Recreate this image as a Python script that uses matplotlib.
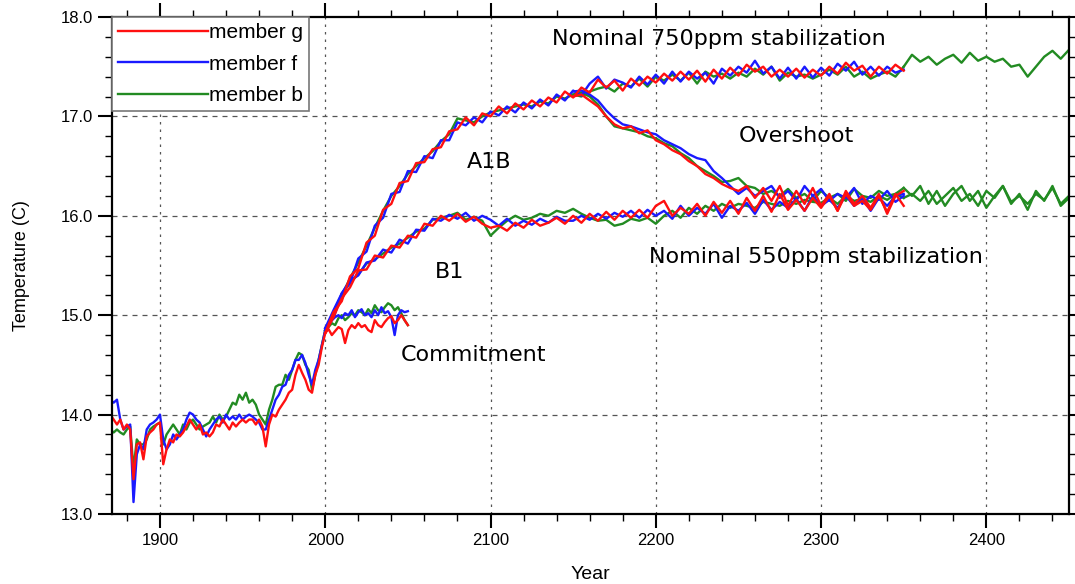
import numpy as np
import matplotlib
matplotlib.use("Agg")
import matplotlib.pyplot as plt

# ---------------- data ----------------
hist_years = np.arange(1870, 2001, 2)
hist_g = [14.00, 13.95, 13.90, 13.95, 13.85, 13.90, 13.85, 13.35, 13.70, 13.72,
          13.55, 13.78, 13.82, 13.85, 13.90, 13.92, 13.50, 13.65, 13.75, 13.72,
          13.80, 13.78, 13.82, 13.88, 13.95, 13.90, 13.85, 13.90, 13.80, 13.82,
          13.78, 13.82, 13.90, 13.88, 13.95, 13.90, 13.85, 13.92, 13.88, 13.92,
          13.95, 13.92, 13.95, 13.95, 13.90, 13.95, 13.88, 13.68, 13.90, 14.00,
          13.98, 14.05, 14.10, 14.15, 14.22, 14.25, 14.40, 14.50, 14.42, 14.35,
          14.25, 14.22, 14.40, 14.50, 14.68, 14.82]
hist_f = [14.15, 14.12, 14.15, 13.95, 13.85, 13.88, 13.90, 13.12, 13.60, 13.70,
          13.65, 13.85, 13.90, 13.92, 13.95, 14.00, 13.75, 13.65, 13.70, 13.80,
          13.75, 13.80, 13.85, 13.95, 14.02, 14.00, 13.95, 13.92, 13.85, 13.78,
          13.85, 13.90, 13.95, 13.98, 13.92, 14.00, 13.95, 13.98, 13.95, 14.00,
          13.95, 13.98, 14.00, 13.98, 13.95, 13.92, 13.85, 13.85, 13.95, 14.05,
          14.15, 14.20, 14.28, 14.30, 14.40, 14.45, 14.55, 14.55, 14.60, 14.52,
          14.40, 14.30, 14.45, 14.55, 14.70, 14.85]
hist_b = [13.85, 13.82, 13.85, 13.82, 13.80, 13.85, 13.88, 13.45, 13.75, 13.70,
          13.70, 13.75, 13.85, 13.88, 13.90, 13.92, 13.70, 13.80, 13.85, 13.90,
          13.85, 13.80, 13.90, 13.85, 13.92, 13.95, 13.90, 13.85, 13.88, 13.90,
          13.92, 13.98, 13.92, 14.00, 13.95, 13.98, 14.05, 14.12, 14.10, 14.20,
          14.15, 14.22, 14.12, 14.15, 14.10, 14.00, 13.95, 13.90, 14.05, 14.15,
          14.28, 14.30, 14.30, 14.40, 14.35, 14.45, 14.55, 14.62, 14.60, 14.50,
          14.45, 14.25, 14.40, 14.55, 14.70, 14.85]

commit_years = np.arange(2000, 2051, 2)
commit_g = [14.82, 14.86, 14.80, 14.84, 14.88, 14.86, 14.72, 14.85, 14.90, 14.87,
            14.92, 14.88, 14.90, 14.85, 14.83, 14.95, 14.90, 14.88, 14.93, 14.97,
            14.99, 14.92, 14.95, 15.00, 14.95, 14.90]
commit_f = [14.85, 14.90, 14.95, 14.98, 15.00, 14.97, 15.02, 15.00, 15.05, 14.98,
            15.03, 15.06, 15.00, 15.02, 14.98, 15.05, 15.00, 15.08, 15.02, 15.04,
            14.98, 14.80, 15.00, 15.05, 15.03, 15.04]
commit_b = [14.85, 14.88, 14.92, 14.90, 14.97, 15.00, 14.95, 14.98, 15.02, 15.00,
            15.05, 15.03, 15.00, 15.06, 15.02, 15.10, 15.05, 15.03, 15.08, 15.12,
            15.10, 15.05, 15.08, 15.02, 14.95, 14.90]

# A1B -> nominal 750 ppm stabilization (2000-2350, every 5 years)
a1b_g = [14.82, 15.03, 15.14, 15.39, 15.47, 15.73, 15.80, 16.06, 16.12, 16.33,
         16.35, 16.53, 16.54, 16.67, 16.69, 16.85, 16.87, 16.99, 16.91, 17.03,
         17.00, 17.10, 17.03, 17.13, 17.07, 17.16, 17.10, 17.19, 17.14, 17.25,
         17.19, 17.29, 17.24, 17.37, 17.29, 17.36, 17.26, 17.38, 17.31, 17.40,
         17.34, 17.43, 17.36, 17.45, 17.37, 17.46, 17.35, 17.47, 17.38, 17.49,
         17.41, 17.52, 17.45, 17.50, 17.40, 17.47, 17.40, 17.48, 17.39, 17.47,
         17.41, 17.50, 17.43, 17.54, 17.46, 17.51, 17.40, 17.50, 17.43, 17.52,
         17.46]
a1b_f = [14.87, 14.97, 15.22, 15.32, 15.57, 15.64, 15.90, 15.98, 16.22, 16.24,
         16.45, 16.44, 16.60, 16.58, 16.76, 16.76, 16.94, 16.91, 16.99, 16.94,
         17.05, 17.01, 17.10, 17.04, 17.14, 17.08, 17.17, 17.11, 17.22, 17.16,
         17.26, 17.21, 17.33, 17.40, 17.28, 17.37, 17.34, 17.29, 17.40, 17.32,
         17.42, 17.33, 17.45, 17.35, 17.45, 17.38, 17.44, 17.33, 17.48, 17.41,
         17.50, 17.44, 17.56, 17.43, 17.50, 17.38, 17.49, 17.38, 17.50, 17.39,
         17.49, 17.41, 17.53, 17.46, 17.55, 17.42, 17.50, 17.41, 17.50, 17.44,
         17.47]
a1b_b = [14.85, 15.01, 15.20, 15.37, 15.53, 15.70, 15.88, 16.05, 16.20, 16.30,
         16.42, 16.50, 16.58, 16.65, 16.75, 16.82, 16.98, 16.96, 16.94, 17.00,
         17.04, 17.06, 17.08, 17.10, 17.12, 17.10, 17.15, 17.13, 17.20, 17.18,
         17.22, 17.20, 17.25, 17.28, 17.30, 17.25, 17.33, 17.30, 17.38, 17.30,
         17.40, 17.36, 17.42, 17.36, 17.44, 17.33, 17.45, 17.40, 17.43, 17.38,
         17.44, 17.40, 17.48, 17.42, 17.50, 17.36, 17.44, 17.40, 17.42, 17.38,
         17.42, 17.47, 17.42, 17.50, 17.40, 17.45, 17.38, 17.42, 17.45, 17.40,
         17.50]
# member b continues 2355-2450
a1b_b_ext = [17.62, 17.55, 17.60, 17.52, 17.58, 17.62, 17.54, 17.64, 17.56, 17.60,
             17.55, 17.58, 17.50, 17.52, 17.40, 17.50, 17.60, 17.66, 17.58, 17.67]

# B1 -> nominal 550 ppm stabilization (2000-2350, every 5 years)
b1_g = [14.82, 14.98, 15.17, 15.28, 15.45, 15.46, 15.60, 15.58, 15.70, 15.68,
        15.80, 15.78, 15.92, 15.90, 16.00, 15.95, 16.02, 15.94, 15.99, 15.92,
        15.88, 15.90, 15.85, 15.93, 15.88, 15.96, 15.90, 15.93, 15.98, 15.92,
        16.00, 15.93, 16.02, 15.95, 16.04, 15.96, 16.05, 15.98, 16.06, 15.98,
        16.10, 16.15, 16.00, 16.08, 16.02, 16.12, 16.00, 16.14, 16.03, 16.15,
        16.02, 16.18, 16.05, 16.20, 16.04, 16.22, 16.06, 16.16, 16.05, 16.18,
        16.08, 16.20, 16.05, 16.22, 16.10, 16.15, 16.06, 16.20, 16.04, 16.22,
        16.10]
b1_f = [14.87, 15.05, 15.22, 15.35, 15.40, 15.53, 15.55, 15.66, 15.63, 15.76,
        15.72, 15.86, 15.85, 15.97, 15.95, 16.01, 15.97, 16.03, 15.95, 16.00,
        15.96, 15.90, 15.97, 15.90, 15.95, 15.91, 15.97, 15.93, 15.99, 15.95,
        15.95, 16.00, 15.96, 16.02, 15.97, 16.03, 15.99, 16.05, 15.98, 16.06,
        16.00, 16.05, 15.97, 16.10, 16.00, 16.08, 16.02, 16.12, 15.98, 16.10,
        16.05, 16.13, 16.02, 16.16, 16.06, 16.14, 16.08, 16.17, 16.05, 16.20,
        16.10, 16.16, 16.08, 16.20, 16.10, 16.18, 16.05, 16.18, 16.10, 16.20,
        16.22]
b1_b = [14.85, 15.03, 15.21, 15.33, 15.41, 15.52, 15.56, 15.62, 15.68, 15.72,
        15.78, 15.84, 15.87, 15.96, 15.98, 16.00, 16.03, 15.96, 15.99, 15.95,
        15.80, 15.88, 15.95, 16.00, 15.96, 15.98, 16.02, 16.00, 16.05, 16.03,
        16.07, 16.02, 15.98, 15.95, 15.96, 15.90, 15.92, 15.97, 15.95, 15.98,
        15.92, 16.00, 16.05, 15.98, 16.08, 16.02, 16.10, 16.05, 16.12, 16.08,
        16.12, 16.10, 16.08, 16.14, 16.12, 16.10, 16.15, 16.12, 16.16, 16.14,
        16.13, 16.18, 16.12, 16.20, 16.15, 16.17, 16.14, 16.20, 16.16, 16.22,
        16.18]
b1_b_ext = [16.22, 16.15, 16.25, 16.12, 16.20, 16.28, 16.15, 16.22, 16.10, 16.25,
            16.18, 16.30, 16.14, 16.20, 16.12, 16.22, 16.16, 16.28, 16.12, 16.20]

# Overshoot (2150-2350, every 5 years)
over_g = [17.20, 17.22, 17.16, 17.10, 17.00, 16.92, 16.88, 16.90, 16.83, 16.86,
          16.76, 16.72, 16.66, 16.62, 16.55, 16.50, 16.42, 16.38, 16.32, 16.28,
          16.25, 16.30, 16.18, 16.28, 16.15, 16.30, 16.10, 16.25, 16.12, 16.28,
          16.10, 16.22, 16.05, 16.25, 16.12, 16.20, 16.08, 16.22, 16.02, 16.20,
          16.25]
over_f = [17.25, 17.26, 17.22, 17.16, 17.06, 16.98, 16.92, 16.90, 16.87, 16.84,
          16.82, 16.76, 16.72, 16.68, 16.62, 16.58, 16.56, 16.45, 16.38, 16.30,
          16.22, 16.28, 16.20, 16.25, 16.30, 16.18, 16.25, 16.15, 16.30, 16.20,
          16.27, 16.15, 16.22, 16.18, 16.28, 16.12, 16.20, 16.16, 16.25, 16.14,
          16.20]
over_b = [17.22, 17.24, 17.20, 17.12, 17.00, 16.90, 16.88, 16.86, 16.84, 16.80,
          16.78, 16.73, 16.70, 16.63, 16.58, 16.50, 16.45, 16.40, 16.34, 16.35,
          16.38, 16.30, 16.28, 16.22, 16.25, 16.20, 16.27, 16.18, 16.22, 16.15,
          16.25, 16.18, 16.22, 16.15, 16.27, 16.20, 16.18, 16.25, 16.20, 16.22,
          16.28]
over_b_ext = [16.20, 16.30, 16.12, 16.25, 16.10, 16.22, 16.30, 16.15, 16.25, 16.08,
              16.20, 16.30, 16.12, 16.22, 16.06, 16.25, 16.15, 16.30, 16.10, 16.18]

members = ["member g", "member f", "member b"]
colors = ["#ff1010", "#1a1aff", "#228b22"]

# ---------------- plotting ----------------
fig = plt.figure(figsize=(10.75, 5.84), dpi=100)
ax = fig.add_axes([0.1042, 0.1199, 0.8902, 0.851])

scen_years = np.arange(2000, 2351, 5)
over_years = np.arange(2150, 2351, 5)
ext_years = np.arange(2355, 2451, 5)

series = {
    "member b": (hist_b, commit_b, a1b_b, b1_b, over_b),
    "member f": (hist_f, commit_f, a1b_f, b1_f, over_f),
    "member g": (hist_g, commit_g, a1b_g, b1_g, over_g),
}
cmap = dict(zip(members, colors))
lw = 1.7
handles = {}
for name in ["member b", "member f", "member g"]:
    h, c, a, b, o = series[name]
    col = cmap[name]
    ln, = ax.plot(hist_years, h, color=col, lw=lw)
    ax.plot(commit_years, c, color=col, lw=lw)
    ax.plot(scen_years, a, color=col, lw=lw)
    ax.plot(scen_years, b, color=col, lw=lw)
    ax.plot(over_years, o, color=col, lw=lw)
    if name == "member b":
        ax.plot(np.concatenate([[2350], ext_years]), [a[-1]] + a1b_b_ext, color=col, lw=lw)
        ax.plot(np.concatenate([[2350], ext_years]), [b[-1]] + b1_b_ext, color=col, lw=lw)
        ax.plot(np.concatenate([[2350], ext_years]), [o[-1]] + over_b_ext, color=col, lw=lw)
    handles[name] = ln

ax.set_xlim(1871, 2450)
ax.set_ylim(13.0, 18.0)
ax.set_xticks(np.arange(1900, 2401, 100))
ax.set_xticks(np.arange(1880, 2450, 20), minor=True)
ax.set_yticks(np.arange(13.0, 18.01, 1.0))
ax.set_yticks(np.arange(13.0, 18.01, 0.2), minor=True)
ax.set_yticklabels([f"{v:.1f}" for v in np.arange(13.0, 18.01, 1.0)])

tickfont = ["Liberation Sans Narrow", "Liberation Sans", "DejaVu Sans"]
for lab in ax.get_xticklabels() + ax.get_yticklabels():
    lab.set_family(tickfont)
    lab.set_fontsize(12)

ax.tick_params(which="major", direction="out", length=10, width=1.5,
               top=True, right=True, pad=4)
ax.tick_params(which="minor", direction="out", length=5, width=1.0,
               top=True, right=True)
for s in ax.spines.values():
    s.set_linewidth(1.6)

for xv in np.arange(1900, 2401, 100):
    ax.axvline(xv, color="#555555", lw=0.9, dashes=(2, 4), zorder=0)
for yv in np.arange(14.0, 17.01, 1.0):
    ax.axhline(yv, color="#555555", lw=0.9, dashes=(4, 4), zorder=0)

ax.set_xlabel("Year", fontsize=14, family=tickfont, labelpad=13)
ax.set_ylabel("Temperature (C)", fontsize=13, family=tickfont, labelpad=22)

leg = ax.legend([handles[m] for m in members], members, loc="upper left",
                borderaxespad=0.0, handlelength=4.3,
                handletextpad=0.05, labelspacing=0.6, borderpad=0.3,
                fancybox=False, framealpha=1.0, edgecolor="#777777",
                prop={"family": ["Liberation Sans", "DejaVu Sans"], "size": 15})
leg.get_frame().set_linewidth(1.2)

annot = dict(fontsize=16, family=["DejaVu Sans"], color="black")
ax.text(2238, 17.78, "Nominal 750ppm stabilization", ha="center", va="center", **annot)
ax.text(2285, 16.8, "Overshoot", ha="center", va="center", **annot)
ax.text(2099, 16.54, "A1B", ha="center", va="center", **annot)
ax.text(2075, 15.43, "B1", ha="center", va="center", **annot)
ax.text(2297, 15.59, "Nominal 550ppm stabilization", ha="center", va="center", **annot)
ax.text(2090, 14.6, "Commitment", ha="center", va="center", **annot)

fig.savefig("out.png", dpi=100)
